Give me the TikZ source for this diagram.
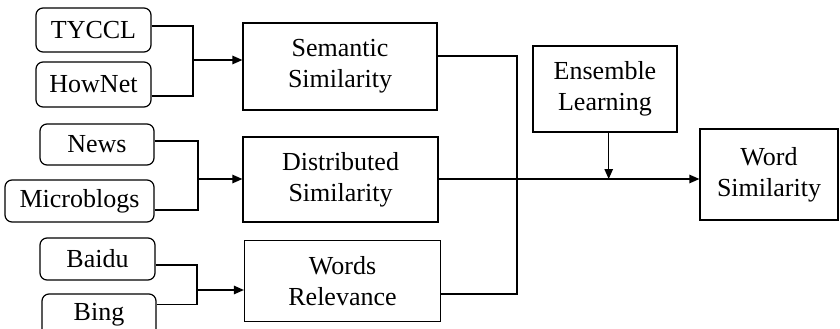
\documentclass[tikz,border=0pt]{standalone}
\usepackage{fontspec}
\setmainfont{Liberation Serif}
\usetikzlibrary{arrows.meta}
\begin{document}
\begin{tikzpicture}[x=1pt,y=-1pt,
  every node/.style={font=\fontsize{26}{31}\selectfont, inner sep=0pt, align=center},
  src/.style={draw, line width=1.2pt, rounded corners=7pt},
  proc/.style={draw, line width=1.2pt},
  link/.style={line width=1.2pt},
  arr/.style={link, -{Triangle[length=10pt,width=8.5pt]}}]
\useasboundingbox (0,0) rectangle (840,329);

% data sources
\node[src, minimum width=115pt, minimum height=44pt] (tyccl) at (93.5,30) {TYCCL};
\node[src, minimum width=115pt, minimum height=45pt] (hownet) at (93.5,84.5) {HowNet};
\node[src, minimum width=114pt, minimum height=41pt] (news) at (97,144.5) {News};
\node[src, minimum width=149pt, minimum height=42pt] (micro) at (79.5,201) {Microblogs};
\node[src, minimum width=115pt, minimum height=42pt] (baidu) at (97.5,259) {Baidu};
\node[src, minimum width=114pt, minimum height=42pt] (bing) at (99,315) {Bing};

% similarity measures
\node[proc, minimum width=194pt, minimum height=87pt] (sem) at (340,66.5) {Semantic\\Similarity};
\node[proc, minimum width=195pt, minimum height=85pt] (dist) at (340.5,179.5) {Distributed\\Similarity};
\node[proc, minimum width=196pt, minimum height=81pt] (rel) at (342.5,281) {Words\\Relevance};

% combination
\node[proc, minimum width=144pt, minimum height=86pt] (ens) at (605,89) {Ensemble\\Learning};
\node[proc, minimum width=138pt, minimum height=91pt] (word) at (769,174.5) {Word\\Similarity};

% junction points
\coordinate (jA) at (193,60);
\coordinate (jB) at (198,179);
\coordinate (jC) at (197,290);
\coordinate (jR) at (517,179);
\coordinate (ensBot) at ([xshift=3.7pt]ens.south);

% sources into measures
\draw[link] ([yshift=4pt]tyccl.east) -| (jA);
\draw[link] ([yshift=-11.5pt]hownet.east) -| (jA);
\draw[arr] (jA) -- (jA -| sem.west);

\draw[link] ([yshift=3.5pt]news.east) -| (jB);
\draw[link] ([yshift=-9pt]micro.east) -| (jB);
\draw[arr] (jB) -- (jB -| dist.west);

\draw[link] ([yshift=-6pt]baidu.east) -| (jC);
\draw[link] ([yshift=10.7pt]bing.east) -| (jC);
\draw[arr] (jC) -- (jC -| rel.west);

% measures into the final score
\draw[link] ([yshift=10.5pt]sem.east) -| (jR);
\draw[link] ([yshift=-13pt]rel.east) -| (jR);
\draw[arr] (dist.east |- jR) -- (jR -| word.west);
\draw[arr] (ensBot) -- (ensBot |- jR);
\end{tikzpicture}
\end{document}
